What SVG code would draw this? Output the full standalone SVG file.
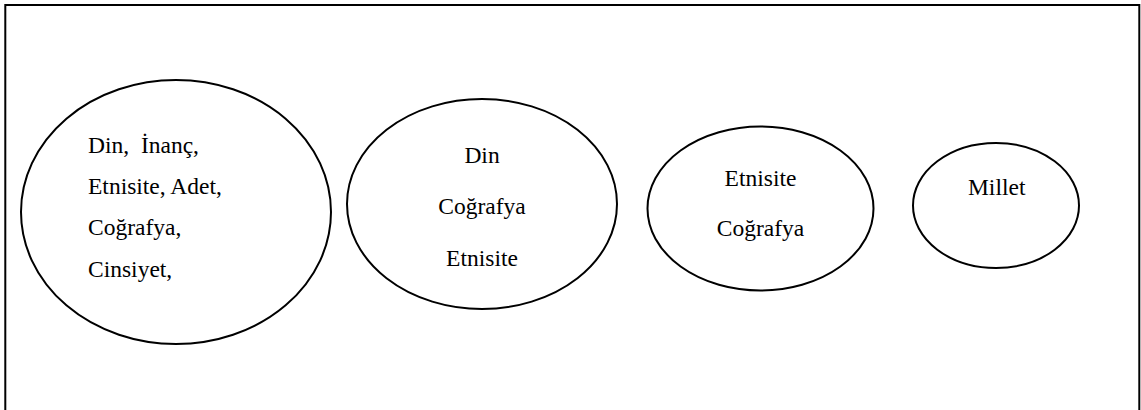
<svg xmlns="http://www.w3.org/2000/svg" width="1141" height="410" viewBox="0 0 1141 410">
  <style>
    .frame { fill: none; stroke: #000; stroke-width: 2; }
    .set { fill: #fff; stroke: #000; stroke-width: 2; }
    .lbl { font-family: "Liberation Serif", "Times New Roman", serif; font-size: 23.5px; fill: #000; }
    .mid { text-anchor: middle; }
  </style>
  <rect x="0" y="0" width="1141" height="410" fill="#fff"/>
  <!-- outer frame; bottom edge runs past the canvas -->
  <rect class="frame" x="5.3" y="5" width="1134" height="420"/>

  <g id="set-broad">
    <ellipse class="set" cx="176" cy="212" rx="155" ry="132"/>
    <text class="lbl" x="88" y="152.7" xml:space="preserve">Din,  İnanç,</text>
    <text class="lbl" x="88" y="193.5">Etnisite, Adet,</text>
    <text class="lbl" x="88" y="235">Coğrafya,</text>
    <text class="lbl" x="88" y="276.7">Cinsiyet,</text>
  </g>

  <g id="set-religion">
    <ellipse class="set" cx="482" cy="204" rx="135" ry="105"/>
    <text class="lbl mid" x="482" y="163">Din</text>
    <text class="lbl mid" x="482" y="214">Coğrafya</text>
    <text class="lbl mid" x="482" y="265.5">Etnisite</text>
  </g>

  <g id="set-ethnicity">
    <ellipse class="set" cx="760.5" cy="208.5" rx="113" ry="82"/>
    <text class="lbl mid" x="760.5" y="185.5">Etnisite</text>
    <text class="lbl mid" x="760.5" y="235.7">Coğrafya</text>
  </g>

  <g id="set-nation">
    <ellipse class="set" cx="996" cy="205.5" rx="83" ry="62.5"/>
    <text class="lbl mid" x="996.7" y="195.3">Millet</text>
  </g>

  <g id="connectors"/>
</svg>
